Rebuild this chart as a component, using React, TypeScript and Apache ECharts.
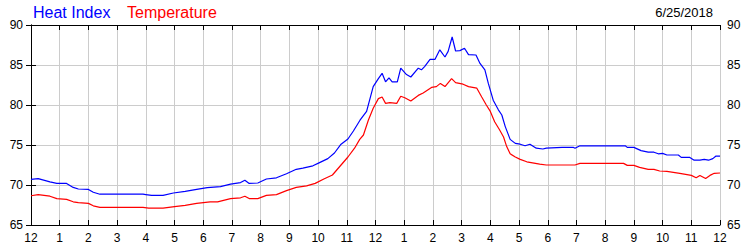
import React, { useEffect, useRef } from "react";
import * as echarts from "echarts";

// Hours since midnight (0..24) and readings
const heatHours = [
  0, 0.25, 0.66, 0.9, 1.24, 1.47, 1.65, 2.0, 2.17, 2.4, 3.0, 3.5, 3.9, 4.0, 4.2, 4.6, 4.96, 5.37, 5.77,
  6.14, 6.6, 6.95, 7.3, 7.45, 7.6, 7.9, 8.2, 8.55, 8.9, 9.24, 9.47, 9.82, 10.05, 10.34, 10.57, 10.8,
  11.04, 11.23, 11.46, 11.69, 11.92, 12.1, 12.23, 12.35, 12.47, 12.58, 12.76, 12.88, 13.08, 13.23,
  13.49, 13.6, 13.71, 13.9, 14.07, 14.24, 14.42, 14.53, 14.67, 14.79, 14.94, 15.1, 15.24, 15.5, 15.64,
  15.81, 15.93, 16.1, 16.28, 16.4, 16.52, 16.69, 16.87, 17.04, 17.21, 17.38, 17.6, 17.83, 17.95, 18.5,
  18.9, 18.95, 19.12, 19.5, 20.0, 20.7, 20.77, 21.0, 21.25, 21.5, 21.7, 21.85, 22.0, 22.15, 22.55,
  22.65, 22.95, 23.1, 23.3, 23.45, 23.6, 23.75, 23.85, 24,
];
const heatIndex = [
  70.7, 70.8, 70.4, 70.2, 70.2, 69.7, 69.5, 69.45, 69.1, 68.85, 68.85, 68.85, 68.85, 68.8, 68.7, 68.7,
  69.0, 69.2, 69.45, 69.67, 69.8, 70.1, 70.3, 70.6, 70.2, 70.25, 70.75, 70.9, 71.4, 71.96, 72.1, 72.4,
  72.8, 73.3, 74.0, 75.1, 75.75, 76.75, 78.1, 79.2, 82.3, 83.3, 83.96, 82.9, 83.4, 82.9, 82.9, 84.6,
  83.8, 83.5, 84.6, 84.4, 84.8, 85.7, 85.7, 86.9, 86.0, 86.7, 88.5, 86.75, 86.8, 87.1, 86.3, 86.25,
  85.2, 84.4, 82.7, 80.6, 79.4, 78.75, 77.3, 75.7, 75.2, 75.1, 74.9, 75.1, 74.6, 74.5, 74.6, 74.7,
  74.7, 74.6, 74.9, 74.9, 74.9, 74.9, 74.7, 74.7, 74.3, 74.1, 74.1, 73.9, 73.96, 73.75, 73.75, 73.45,
  73.45, 73.1, 73.1, 73.2, 73.1, 73.3, 73.6, 73.6,
];

const tempHours = [
  0, 0.25, 0.66, 0.9, 1.24, 1.47, 1.65, 2.0, 2.17, 2.4, 3.9, 4.1, 4.6, 5.0, 5.37, 5.77, 6.24, 6.5,
  6.95, 7.3, 7.45, 7.6, 7.9, 8.2, 8.55, 8.9, 9.24, 9.6, 9.9, 10.2, 10.5, 10.8, 11.04, 11.27, 11.45,
  11.58, 11.75, 11.92, 12.1, 12.23, 12.35, 12.5, 12.74, 12.88, 13.02, 13.23, 13.49, 13.66, 13.95,
  14.12, 14.26, 14.42, 14.65, 14.79, 15.05, 15.24, 15.53, 15.7, 15.86, 16.0, 16.15, 16.32, 16.46,
  16.57, 16.69, 16.87, 17.04, 17.27, 17.72, 17.95, 18.95, 19.12, 20.64, 20.77, 21.0, 21.2, 21.5,
  21.7, 21.9, 22.15, 22.6, 23.0, 23.17, 23.3, 23.5, 23.65, 23.8, 24,
];
const temperature = [
  68.66, 68.8, 68.6, 68.3, 68.2, 67.9, 67.8, 67.7, 67.4, 67.2, 67.2, 67.1, 67.1, 67.3, 67.45, 67.7,
  67.9, 67.9, 68.3, 68.4, 68.6, 68.3, 68.3, 68.7, 68.8, 69.3, 69.7, 69.9, 70.2, 70.75, 71.25, 72.5,
  73.5, 74.6, 75.7, 76.25, 78.1, 79.6, 80.8, 81.0, 80.2, 80.3, 80.2, 81.1, 80.9, 80.5, 81.2, 81.5,
  82.2, 82.3, 82.7, 82.3, 83.3, 82.8, 82.6, 82.3, 82.1, 81.0, 80.0, 79.2, 77.9, 76.9, 76.0, 74.8,
  73.9, 73.5, 73.2, 72.9, 72.6, 72.5, 72.5, 72.7, 72.7, 72.45, 72.45, 72.2, 71.96, 71.96, 71.75,
  71.7, 71.46, 71.2, 70.9, 71.2, 70.8, 71.2, 71.46, 71.5,
];

const hourLabels = [
  "12", "1", "2", "3", "4", "5", "6", "7", "8", "9", "10", "11",
  "12", "1", "2", "3", "4", "5", "6", "7", "8", "9", "10", "11", "12",
];
const yMin = 65;
const yMax = 90;
const yStep = 5;

const seriesNames = ["Heat Index", "Temperature"];
const dateLabel = "6/25/2018";

const FONT = "'Liberation Sans', Arial, sans-serif";

export default function App() {
  const ref = useRef<HTMLDivElement>(null);

  useEffect(() => {
    if (!ref.current) return;
    const chart = echarts.init(ref.current, undefined, { renderer: "svg" });

    const heatData = heatHours.map((h, i) => [h, heatIndex[i]]);
    const tempData = tempHours.map((h, i) => [h, temperature[i]]);

    const yAxisBase = {
      type: "value" as const,
      min: yMin,
      max: yMax,
      interval: yStep,
      axisLine: { show: true, lineStyle: { color: "#000", width: 1 } },
      axisTick: { show: true, inside: true, length: 5, lineStyle: { color: "#000" } },
      axisLabel: { color: "#000", fontFamily: FONT, fontSize: 12 },
    };

    chart.setOption({
      animation: false,
      backgroundColor: "#fff",
      grid: { left: 31, right: 30, top: 25, bottom: 25, containLabel: false },
      graphic: [
        {
          type: "text",
          left: 33,
          top: 4,
          style: { text: seriesNames[0], fill: "#0000ff", font: `16px ${FONT}` },
        },
        {
          type: "text",
          left: 127,
          top: 4,
          style: { text: seriesNames[1], fill: "#ff0000", font: `16px ${FONT}` },
        },
        {
          type: "text",
          right: 37,
          top: 6,
          style: { text: dateLabel, fill: "#000", font: `13px ${FONT}` },
        },
      ],
      xAxis: [
        {
          type: "value",
          position: "bottom",
          min: 0,
          max: 24,
          interval: 1,
          axisLine: { show: true, onZero: false, lineStyle: { color: "#000", width: 1 } },
          axisTick: { show: true, inside: true, length: 5, lineStyle: { color: "#000" } },
          axisLabel: {
            color: "#000",
            fontFamily: FONT,
            fontSize: 12,
            margin: 7,
            formatter: (v: number) => hourLabels[Math.round(v)] ?? "",
          },
          splitLine: { show: true, lineStyle: { color: "#cccccc", width: 1 } },
        },
        {
          type: "value",
          position: "top",
          min: 0,
          max: 24,
          interval: 1,
          axisLine: { show: true, onZero: false, lineStyle: { color: "#000", width: 1 } },
          axisTick: { show: true, inside: true, length: 5, lineStyle: { color: "#000" } },
          axisLabel: { show: false },
          splitLine: { show: false },
        },
      ],
      yAxis: [
        {
          ...yAxisBase,
          position: "left",
          axisLabel: { ...yAxisBase.axisLabel, margin: 8 },
          splitLine: { show: true, lineStyle: { color: "#cccccc", width: 1 } },
        },
        {
          ...yAxisBase,
          position: "right",
          axisLabel: { ...yAxisBase.axisLabel, margin: 7 },
          splitLine: { show: false },
        },
      ],
      series: [
        {
          name: seriesNames[1],
          type: "line",
          data: tempData,
          showSymbol: false,
          symbol: "none",
          lineStyle: { color: "#ff0000", width: 1.2 },
          itemStyle: { color: "#ff0000" },
        },
        {
          name: seriesNames[0],
          type: "line",
          data: heatData,
          showSymbol: false,
          symbol: "none",
          lineStyle: { color: "#0000ff", width: 1.2 },
          itemStyle: { color: "#0000ff" },
        },
      ],
    });

    return () => chart.dispose();
  }, []);

  return (
    <div
      ref={ref}
      style={{ position: "fixed", left: 0, top: 0, width: 750, height: 250, background: "#fff" }}
    />
  );
}
